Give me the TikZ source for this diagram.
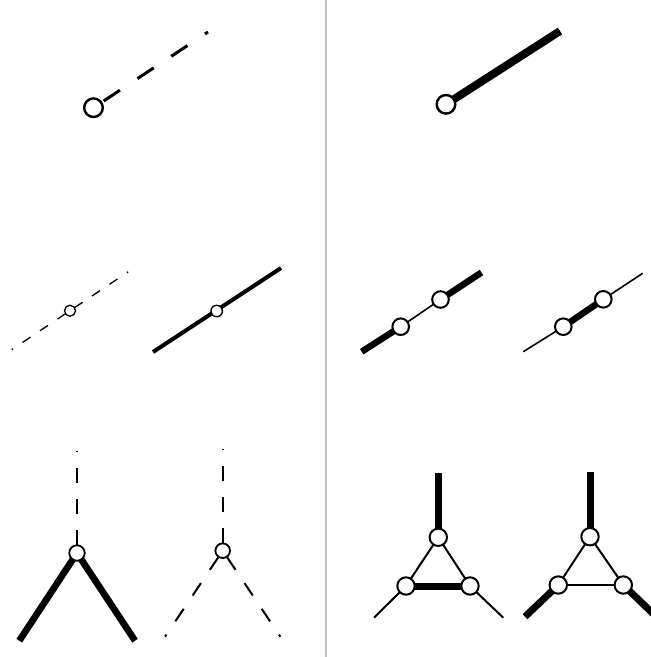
\documentclass[tikz,border=0pt]{standalone}
\begin{document}
\begin{tikzpicture}[x=1pt,y=-1pt,
  vtx/.style={circle,draw=black,fill=white,inner sep=0pt},
  bigvtx/.style={vtx,minimum size=18.6pt,line width=2.4pt},
  midvtx/.style={vtx,minimum size=16.6pt,line width=2pt},
  smallvtx/.style={vtx,minimum size=11.4pt,line width=1.4pt},
  tinyvtx/.style={vtx,minimum size=11pt,line width=1.3pt},
  dashA/.style={line width=3pt,dash pattern=on 19.5pt off 21pt,dash phase=28.3pt},
  dashB/.style={line width=1.3pt,dash pattern=on 9.6pt off 11.4pt,dash phase=15.5pt},
  dashC/.style={line width=2pt,dash pattern=on 15pt off 16pt,dash phase=23pt},
  thin/.style={line width=1.6pt},
  thinB/.style={line width=2pt},
  thick/.style={line width=6.7pt},
  thickB/.style={line width=7pt},
  divider/.style={line width=2.4pt,draw=black!25}]
\useasboundingbox (0,0) rectangle (651,657);
% divider
\coordinate (dvT) at (325.7,0);
\coordinate (dvB) at (325.7,657);
\draw[divider] (dvT) -- (dvB);

% ---------- top left
\coordinate (a0) at (93.5,107.7);
\coordinate (a1) at (208,32);
\draw[dashA] (a0) -- (a1);
\node[bigvtx] (na0) at (a0) {};

% ---------- top right
\coordinate (b0) at (446,104.3);
\coordinate (b1) at (560,31);
\draw[line width=8pt] (b0) -- (b1);
\node[bigvtx] (nb0) at (b0) {};

% ---------- middle 1 (dashed)
\coordinate (c0) at (70,310.7);
\coordinate (c1) at (128.2,271.8);
\coordinate (c2) at (11.8,349.6);
\draw[dashB] (c0) -- (c1);
\draw[dashB] (c0) -- (c2);
\node[tinyvtx] (nc0) at (c0) {};

% ---------- middle 2 (thick)
\coordinate (d0) at (216.7,311);
\coordinate (d1) at (281,268);
\coordinate (d2) at (153,352);
\draw[line width=4pt] (d2) -- (d1);
\node[smallvtx] (nd0) at (d0) {};

% ---------- middle 3
\coordinate (e1) at (361.7,351.7);
\coordinate (e2) at (400.7,326.7);
\coordinate (e3) at (440.5,299.5);
\coordinate (e4) at (481.5,272.5);
\draw[line width=6.5pt] (e1) -- (e2);
\draw[thin] (e2) -- (e3);
\draw[line width=6.5pt] (e3) -- (e4);
\node[midvtx] (ne2) at (e2) {};
\node[midvtx] (ne3) at (e3) {};

% ---------- middle 4
\coordinate (f1) at (523.3,351.7);
\coordinate (f2) at (563.3,326.7);
\coordinate (f3) at (603.3,299.3);
\coordinate (f4) at (642.7,273.3);
\draw[thin] (f1) -- (f2);
\draw[line width=6.5pt] (f2) -- (f3);
\draw[thin] (f3) -- (f4);
\node[midvtx] (nf2) at (f2) {};
\node[midvtx] (nf3) at (f3) {};

% ---------- bottom 1
\coordinate (g0) at (77,553);
\coordinate (gT) at (77,451.3);
\coordinate (gL) at (19.3,640.7);
\coordinate (gR) at (135,640.7);
\draw[dashC] (g0) -- (gT);
\draw[thick] (g0) -- (gL);
\draw[thick] (g0) -- (gR);
\node[vtx,minimum size=15.5pt,line width=1.8pt] (ng0) at (g0) {};

% ---------- bottom 2
\coordinate (h0) at (222.7,550.7);
\coordinate (hT) at (222.7,449.3);
\coordinate (hL) at (165,636.7);
\coordinate (hR) at (280.4,636.7);
\draw[dashC] (h0) -- (hT);
\draw[dashC] (h0) -- (hL);
\draw[dashC] (h0) -- (hR);
\node[vtx,minimum size=14.6pt,line width=1.8pt] (nh0) at (h0) {};

% ---------- bottom 3
\coordinate (i0) at (438.3,537.3);
\coordinate (iT) at (438.3,472.7);
\coordinate (iL) at (406,586);
\coordinate (iR) at (470,586);
\coordinate (iLL) at (374,617.7);
\coordinate (iRR) at (503.3,617.7);
\draw[thickB] (i0) -- (iT);
\draw[thinB] (i0) -- (iL);
\draw[thinB] (i0) -- (iR);
\draw[thickB] (iL) -- (iR);
\draw[thinB] (iL) -- (iLL);
\draw[thinB] (iR) -- (iRR);
\node[midvtx,minimum size=17.4pt] (ni0) at (i0) {};
\node[midvtx,minimum size=17.4pt] (niL) at (iL) {};
\node[midvtx,minimum size=17.4pt] (niR) at (iR) {};

% ---------- bottom 4
\coordinate (j0) at (590,536.7);
\coordinate (jT) at (590,471.7);
\coordinate (jL) at (558.3,585);
\coordinate (jR) at (623.3,585);
\coordinate (jLL) at (525,616.7);
\coordinate (jRR) at (656.6,617);
\draw[thickB] (j0) -- (jT);
\draw[thinB] (j0) -- (jL);
\draw[thinB] (j0) -- (jR);
\draw[thinB] (jL) -- (jR);
\draw[thickB] (jL) -- (jLL);
\draw[thickB] (jR) -- (jRR);
\node[midvtx,minimum size=17.4pt] (nj0) at (j0) {};
\node[midvtx,minimum size=17.4pt] (njL) at (jL) {};
\node[midvtx,minimum size=17.4pt] (njR) at (jR) {};
\end{tikzpicture}
\end{document}
